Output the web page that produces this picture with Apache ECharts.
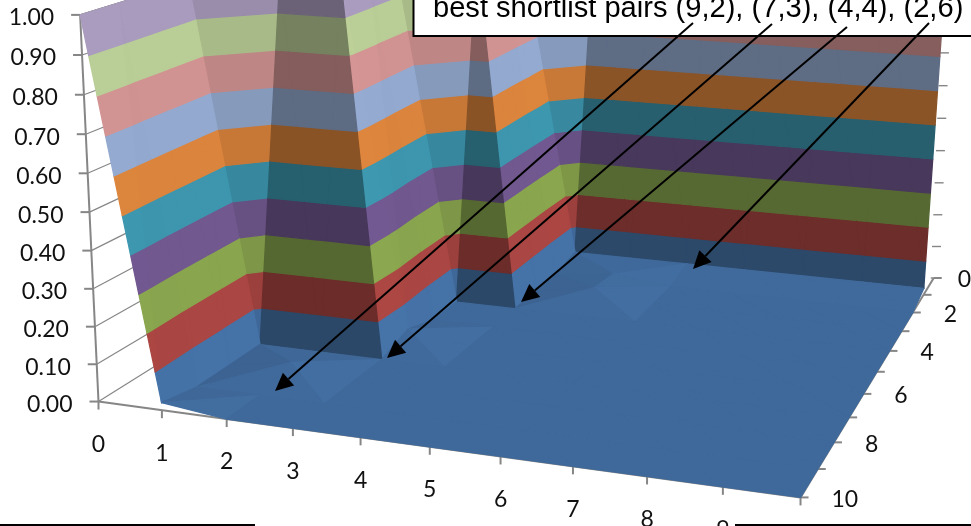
<!DOCTYPE html>
<html><head><meta charset="utf-8">
<style>html,body{margin:0;padding:0;background:#fff}#c{width:971px;height:526px}</style>
<script src="https://cdn.jsdelivr.net/npm/echarts@6/dist/echarts.min.js"></script>
</head><body><div id="c"></div>
<script>
// ---- data -------------------------------------------------------------
const xLabels = ['0','1','2','3','4','5','6','7','8','9','10'];
const depthLabels = ['0','1','2','3','4','5','6','7','8','9','10'];
const zTicks = [0,0.1,0.2,0.3,0.4,0.5,0.6,0.7,0.8,0.9,1];
// surface value: rows are depth 0..10, columns are x 0..10
const surfaceZ = [
 [1,1,1,1,1,1,1,1,1,1,1],
 [1,1,1,1,.02,.02,.02,.02,.02,.02,.02],
 [1,1,1,1,0,.02,0,0,0,0,0],
 [1,1,1,1,0,.03,0,0,0,0,0],
 [1,1,1,0,0,0,0,0,0,0,0],
 [1,1,1,0,0,0,0,0,0,0,0],
 [1,1,1,.03,0,0,0,0,0,0,0],
 [1,0,0,0,0,0,0,0,0,0,0],
 [1,0,.03,0,0,0,0,0,0,0,0],
 [1,0,0,0,0,0,0,0,0,0,0],
 [1,.02,0,0,0,0,0,0,0,0,0]
];
const bandColors = ['#4572A7','#AA4643','#89A54E','#71588F','#3D96AE','#DB843D','#93A9CF','#D19392','#B9CD96','#A99BBD'];
const title = 'best shortlist pairs (9,2), (7,3), (4,4), (2,6)';

// ---- camera: calibrated from axis landmarks [x, depth, z, px, py] -------
const landmarks = [
 [0,10,0,99.5,403],[1,10,0,162.3,410.7],[2,10,0,227.3,420.7],[3,10,0,292.3,429.3],[4,10,0,360.3,437.3],
 [5,10,0,429,447],[6,10,0,500,457],[7,10,0,573,466],[8,10,0,647,476],[10,10,0,800,496],
 [10,9,0,818,467],[10,8,0,835,441.7],[10,7,0,849,417],[10,6,0,863,394],[10,5,0,877,372.7],
 [10,4,0,890,352],[10,3,0,902,331],[10,2,0,915,313],[10,1,0,923,295],[10,0,0,933,279],
 [0,10,1,80,15],[0,10,.5,90,213],[10,0,.1,933.5,248],[10,0,.7,943,52],
 [1,7,0,258,342],[3,7,0,381,360],[3,4,0,460,298],[4,4,0,513,310],[4,1,0,575,258]
];
function solveCamera(pts){
  const n=11, A=[...Array(n)].map(()=>Array(n+1).fill(0));
  const add=(r,y)=>{for(let i=0;i<n;i++){for(let j=0;j<n;j++)A[i][j]+=r[i]*r[j];A[i][n]+=r[i]*y;}};
  for(const [x,d,z,u,v] of pts){
    add([x,d,z,1,0,0,0,0,-u*x,-u*d,-u*z],u);
    add([0,0,0,0,x,d,z,1,-v*x,-v*d,-v*z],v);
  }
  for(let c=0;c<n;c++){
    let m=c;for(let r=c+1;r<n;r++)if(Math.abs(A[r][c])>Math.abs(A[m][c]))m=r;
    [A[c],A[m]]=[A[m],A[c]];
    for(let r=0;r<n;r++){if(r===c)continue;const f=A[r][c]/A[c][c];for(let k=c;k<=n;k++)A[r][k]-=f*A[c][k];}
  }
  return A.map((r,i)=>r[n]/r[i]);
}
const P=solveCamera(landmarks);
function project(x,d,z){
  const w=P[8]*x+P[9]*d+P[10]*z+1;
  return [(P[0]*x+P[1]*d+P[2]*z+P[3])/w,(P[4]*x+P[5]*d+P[6]*z+P[7])/w];
}

// ---- surface helpers ----------------------------------------------------
function clipBand(tri,lo,hi){
  const clip=(poly,keep,lev)=>{
    const out=[];
    for(let i=0;i<poly.length;i++){
      const a=poly[i],b=poly[(i+1)%poly.length],ka=keep(a[2]),kb=keep(b[2]);
      if(ka)out.push(a);
      if(ka!==kb){const t=(lev-a[2])/(b[2]-a[2]);out.push([a[0]+t*(b[0]-a[0]),a[1]+t*(b[1]-a[1]),lev]);}
    }
    return out;
  };
  return clip(clip(tri,z=>z>=lo,lo),z=>z<=hi,hi);
}
function shade(tri){
  const [A,B,C]=tri;
  const ux=B[0]-A[0],ud=B[1]-A[1],uz=B[2]-A[2],vx=C[0]-A[0],vd=C[1]-A[1],vz=C[2]-A[2];
  const det=ux*vd-ud*vx;
  const gx=-(uz*vd-ud*vz)/det, gd=-(ux*vz-uz*vx)/det;
  if(Math.abs(gx)<.1&&Math.abs(gd)<.1) return .92+1.6*gx+.3*gd;
  const nx=2*gx,nd=2*gd,len=Math.hypot(nx,nd,1);
  return (.659*nx+.245*nd+.92)/len;
}
function tint(hex,b){
  const f=i=>Math.min(255,Math.round(parseInt(hex.substr(i,2),16)*b));
  return 'rgb('+f(1)+','+f(3)+','+f(5)+')';
}
const cells=[];
for(let d=0;d<depthLabels.length-1;d++)for(let x=0;x<xLabels.length-1;x++)cells.push([x,d]);

function renderCell(params,api){
  const x=api.value(0),d=api.value(1);
  const v=(i,j)=>[i,j,surfaceZ[j][i]];
  const a=v(x,d),b=v(x+1,d),c=v(x,d+1),e=v(x+1,d+1);
  const tris=(a[2]+e[2]>=b[2]+c[2])?[[a,b,e],[a,e,c]]:[[a,b,c],[b,e,c]];
  const children=[];
  tris.forEach(t=>{
    const s=shade(t);
    bandColors.forEach((col,k)=>{
      const poly=clipBand(t,zTicks[k],zTicks[k+1]);
      if(poly.length<3)return;
      const pts=poly.map(p=>api.coord(project(p[0],p[1],p[2])));
      let area=0;pts.forEach((p,i)=>{const q=pts[(i+1)%pts.length];area+=p[0]*q[1]-q[0]*p[1];});
      if(Math.abs(area)<.05)return;
      const fill=tint(col,s);
      children.push({type:'polygon',shape:{points:pts},style:{fill:fill,stroke:fill,lineWidth:1.3,lineJoin:'round'}});
    });
  });
  return {type:'group',children};
}
const GREY='#868686', TXT='#111', FONT='Lato';
function seg(api,a,b,w){
  const p=api.coord(a),q=api.coord(b);
  return {type:'line',shape:{x1:p[0],y1:p[1],x2:q[0],y2:q[1]},style:{stroke:GREY,lineWidth:w||1.6}};
}
function lab(api,p,text,align){
  const q=api.coord(p);
  return {type:'text',x:q[0],y:q[1],style:{text:text,fill:TXT,font:'23px '+FONT,align:align,verticalAlign:'middle'}};
}
function renderZBack(params,api){
  const z=api.value(0);
  const a=project(0,10,z),b=project(0,0,z),c=project(10,0,z);
  return {type:'group',children:[seg(api,a,b,1.2),seg(api,[c[0]-3,c[1]],[c[0]+6,c[1]],1.4)]};
}
function renderAxes(params,api){
  const kind=api.value(0),t=api.value(1),ch=[];
  if(kind===0){ // value axis
    const p=project(0,10,t);
    ch.push(seg(api,[p[0]-9,p[1]],p,2));
    ch.push(lab(api,[p[0]-26,p[1]+3],t.toFixed(2),'right'));
  }else if(kind===1){ // x axis
    const p=project(t,10,0);
    ch.push(seg(api,p,[p[0],p[1]+8],2));
    ch.push(lab(api,[p[0],p[1]+43],xLabels[t],'center'));
  }else{ // depth axis
    const p=project(10,t,0);
    ch.push(seg(api,p,[p[0]+8,p[1]],2));
    if(t%2===0)ch.push(lab(api,[p[0]+(t===0?24:31),p[1]+2],depthLabels[t],'left'));
  }
  return {type:'group',children:ch};
}
function renderFrame(params,api){
  return {type:'group',children:[
    seg(api,project(0,10,0),project(0,10,1),2),
    seg(api,project(0,10,0),project(10,10,0),2),
    seg(api,project(10,10,0),project(10,0,0),2),
    seg(api,project(0,10,1),project(0,0,1),1.6)
  ]};
}
const axisItems=[...zTicks.map(t=>[0,t]),...xLabels.map((_,i)=>[1,i]),...depthLabels.map((_,i)=>[2,i])];

// ---- annotation ---------------------------------------------------------
const arrows=[[693,23,275,391],[772,24,387,358],[847,27,521,302],[929,23,693,269]];
function arrowGraphics(){
  const out=[];
  arrows.forEach(([x1,y1,x2,y2])=>{
    const L=Math.hypot(x2-x1,y2-y1),ux=(x2-x1)/L,uy=(y2-y1)/L,h=18,w=8.5;
    const bx=x2-ux*h,by=y2-uy*h;
    out.push({type:'line',shape:{x1,y1,x2:bx,y2:by},style:{stroke:'#000',lineWidth:2},z:20});
    out.push({type:'polygon',shape:{points:[[x2,y2],[bx-uy*w,by+ux*w],[bx+uy*w,by-ux*w]]},style:{fill:'#000'},z:20});
  });
  return out;
}
const option={
  animation:false,
  backgroundColor:'#fff',
  grid:{left:0,right:0,top:0,bottom:0},
  xAxis:{type:'value',min:0,max:971,show:false},
  yAxis:{type:'value',min:0,max:526,inverse:true,show:false},
  series:[
    {type:'custom',coordinateSystem:'cartesian2d',clip:false,z:1,silent:true,data:zTicks.map(t=>[t]),encode:{x:0,y:0},renderItem:renderZBack},
    {type:'custom',coordinateSystem:'cartesian2d',clip:false,z:2,silent:true,data:axisItems,encode:{x:1,y:1},renderItem:renderAxes},
    {type:'custom',coordinateSystem:'cartesian2d',clip:false,z:3,silent:true,data:[[0]],encode:{x:0,y:0},renderItem:renderFrame},
    {type:'custom',coordinateSystem:'cartesian2d',clip:false,z:4,silent:true,data:cells,encode:{x:0,y:1},renderItem:renderCell}
  ],
  graphic:[
    {type:'rect',shape:{x:413.5,y:-6,width:570,height:42},style:{fill:'#fff',stroke:'#000',lineWidth:2},z:10},
    {type:'text',x:433,y:9,style:{text:title,fill:'#000',font:'29.1px "Liberation Sans"',align:'left',verticalAlign:'middle'},z:11},
    {type:'line',shape:{x1:0,y1:525,x2:255,y2:525},style:{stroke:'#000',lineWidth:2},z:10},
    {type:'line',shape:{x1:735,y1:525,x2:971,y2:525},style:{stroke:'#000',lineWidth:2},z:10},
    ...arrowGraphics()
  ]
};
echarts.init(document.getElementById('c'),null,{renderer:'canvas'}).setOption(option);
</script></body></html>
